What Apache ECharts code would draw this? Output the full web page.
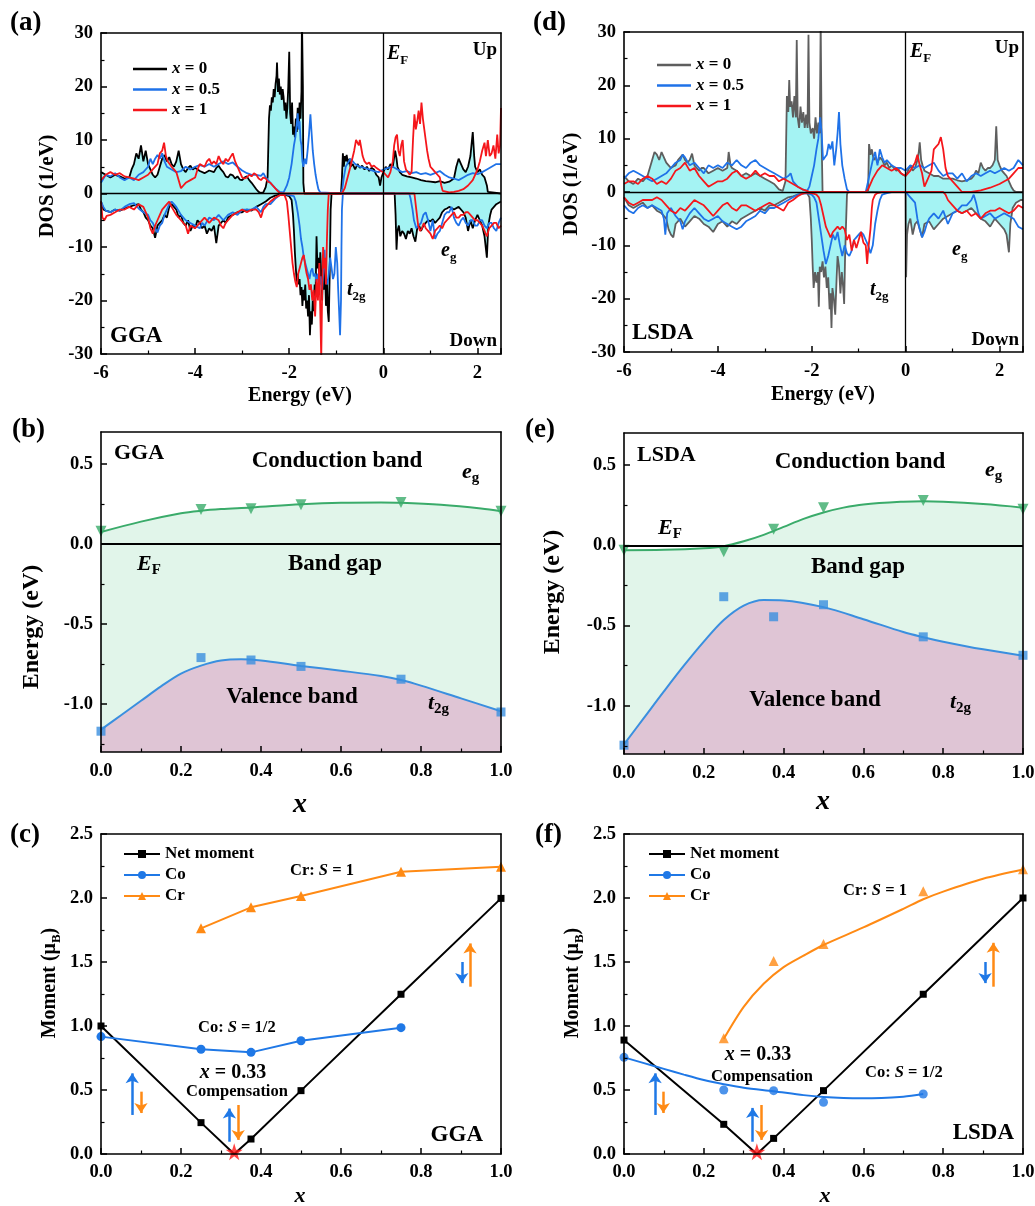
<!DOCTYPE html>
<html>
<head>
<meta charset="utf-8">
<script src="https://cdn.jsdelivr.net/npm/echarts@6/dist/echarts.min.js"></script>
<style>
html, body { margin: 0; padding: 0; background: #fff; }
#chart { width: 1035px; height: 1206px; }
</style>
</head>
<body>
<div id="chart"></div>
<script>
// ---- DOS, GGA (panel a): [energy eV, DOS 1/eV]
const ggaUp0 = [[-6,4],[-5.9,3.5],[-5.8,3],[-5.7,3.5],[-5.6,3.2],[-5.5,2.8],[-5.4,3],[-5.35,4.5],[-5.3,5.5],[-5.25,7.5],[-5.2,6.5],[-5.15,9],[-5.1,6],[-5.05,8],[-5,5.5],[-4.95,4.5],[-4.9,3.5],[-4.85,3],[-4.8,3.5],[-4.75,5],[-4.7,6.5],[-4.65,7.2],[-4.6,6],[-4.55,6.8],[-4.5,5.5],[-4.45,5],[-4.4,6],[-4.35,8],[-4.3,5.5],[-4.25,4.5],[-4.2,4],[-4.15,4.8],[-4.1,5.2],[-4.05,4.5],[-4,4.8],[-3.9,4.2],[-3.8,3.8],[-3.7,4.3],[-3.6,4],[-3.55,4.8],[-3.5,5.2],[-3.45,4.5],[-3.4,4],[-3.35,3.2],[-3.3,3],[-3.25,3.6],[-3.2,3.4],[-3.15,2.8],[-3.1,3.2],[-3.05,2.6],[-3,2.5],[-2.95,3],[-2.9,3.2],[-2.85,2.5],[-2.8,2],[-2.75,1.4],[-2.7,0.8],[-2.65,0.3],[-2.6,0.1],[-2.55,0.2],[-2.5,1.2],[-2.46,3],[-2.43,14],[-2.41,16.5],[-2.39,15.5],[-2.37,18],[-2.35,17],[-2.33,19.5],[-2.31,18],[-2.29,20.5],[-2.27,22],[-2.26,24.5],[-2.24,19],[-2.22,21.5],[-2.2,18.5],[-2.18,20],[-2.16,17.5],[-2.14,19.5],[-2.12,18],[-2.1,15.5],[-2.08,17],[-2.06,14],[-2.04,16],[-2.02,20],[-2,26.5],[-1.98,15],[-1.96,13],[-1.94,17],[-1.92,11],[-1.9,12.5],[-1.88,10.5],[-1.86,14],[-1.84,11.5],[-1.82,16],[-1.8,12],[-1.78,17],[-1.76,14],[-1.74,19],[-1.73,33],[-1.71,20],[-1.7,2],[-1.68,0],[-0.9,0],[-0.88,3],[-0.86,7.5],[-0.84,5],[-0.82,7],[-0.8,6],[-0.78,7.2],[-0.75,5.5],[-0.72,6.5],[-0.7,5],[-0.65,5.5],[-0.6,4.5],[-0.55,5.5],[-0.5,4.8],[-0.45,5.2],[-0.4,4.5],[-0.35,5],[-0.3,4.2],[-0.25,4.8],[-0.2,4.5],[-0.15,3.5],[-0.1,3],[-0.07,1.5],[-0.04,3],[0,4],[0.05,5],[0.1,4.5],[0.15,5.5],[0.2,5],[0.25,8],[0.28,6.5],[0.3,5],[0.35,4],[0.4,3.5],[0.5,3.2],[0.6,3],[0.7,2.8],[0.8,2.5],[0.9,2.3],[1,2.2],[1.1,2.1],[1.2,2.3],[1.3,2],[1.4,2.2],[1.5,2.8],[1.55,5],[1.6,6.5],[1.65,5.5],[1.7,4.5],[1.75,4],[1.8,5],[1.85,7],[1.9,11.5],[1.93,7],[1.95,5],[2,4],[2.05,4.5],[2.1,3.5],[2.15,3],[2.2,1.5],[2.22,0.3],[2.25,0],[2.5,0]];
const ggaUp05 = [[-6,2],[-5.9,3.5],[-5.8,3.2],[-5.7,3.8],[-5.6,3],[-5.5,2.5],[-5.4,3],[-5.3,2.5],[-5.2,3.5],[-5.1,4],[-5,5],[-4.95,6.5],[-4.9,5.5],[-4.85,6.5],[-4.8,7.2],[-4.75,6.5],[-4.7,7.5],[-4.65,6],[-4.6,5],[-4.5,4.5],[-4.4,4],[-4.3,4.2],[-4.2,5],[-4.1,4.5],[-4,5],[-3.9,5.3],[-3.8,5],[-3.7,5.5],[-3.6,5],[-3.5,5.5],[-3.4,6],[-3.3,5.5],[-3.2,5.8],[-3.1,5],[-3,4.3],[-2.9,3.8],[-2.8,3.5],[-2.7,3.5],[-2.6,3.3],[-2.55,3.8],[-2.5,3],[-2.45,2.5],[-2.4,2],[-2.3,1],[-2.2,0.3],[-2.12,0.2],[-2.05,1.5],[-2,3],[-1.95,5.5],[-1.9,9],[-1.87,10.5],[-1.84,13],[-1.82,15],[-1.8,12],[-1.78,13.5],[-1.76,10],[-1.74,9],[-1.72,6],[-1.7,5],[-1.67,6.5],[-1.64,5.5],[-1.61,8],[-1.58,11],[-1.55,14.8],[-1.53,12],[-1.5,8],[-1.47,5.5],[-1.44,3.5],[-1.41,2],[-1.38,0.8],[-1.34,0.2],[-1.3,0],[-0.9,0],[-0.87,1],[-0.84,3],[-0.8,5],[-0.75,5.8],[-0.7,6.5],[-0.65,6],[-0.6,5.5],[-0.55,5.2],[-0.5,5],[-0.4,4.8],[-0.3,4.5],[-0.2,4.2],[-0.1,4],[0,4.5],[0.1,4.8],[0.2,5],[0.3,4.5],[0.4,4],[0.5,4.2],[0.6,3.8],[0.7,4],[0.8,3.6],[0.9,3.8],[1,3.5],[1.1,3.8],[1.2,4.2],[1.3,3.5],[1.4,3],[1.5,2.8],[1.6,2.5],[1.7,3],[1.8,3.5],[1.9,3.8],[2,3.6],[2.1,4],[2.2,4.5],[2.3,5],[2.4,5.5],[2.5,5.5]];
const ggaUp1 = [[-6,2.5],[-5.9,3.5],[-5.8,4],[-5.7,3.5],[-5.6,3.8],[-5.5,3.2],[-5.4,3],[-5.3,2.8],[-5.2,2.5],[-5.1,3],[-5,3.5],[-4.9,4.5],[-4.8,5.5],[-4.75,7.5],[-4.7,8],[-4.66,9.5],[-4.62,7],[-4.58,6],[-4.5,5],[-4.45,4.5],[-4.4,4],[-4.35,2.5],[-4.3,1],[-4.25,1.5],[-4.2,2],[-4.1,2.5],[-4,3],[-3.95,4.5],[-3.9,5.5],[-3.8,5],[-3.75,6],[-3.7,6.5],[-3.65,5.5],[-3.6,6],[-3.55,5.5],[-3.5,7],[-3.45,6],[-3.4,5.5],[-3.35,6.5],[-3.3,6],[-3.25,6.8],[-3.2,7.5],[-3.15,6],[-3.1,5],[-3.05,4],[-3,3],[-2.95,2.8],[-2.9,3],[-2.85,3.5],[-2.8,3.2],[-2.75,3.8],[-2.7,3.5],[-2.65,2.8],[-2.6,2.5],[-2.55,3],[-2.5,2.8],[-2.45,2.2],[-2.4,2],[-2.35,1.5],[-2.3,1],[-2.25,0.5],[-2.2,0.1],[-2.15,0],[-0.88,0],[-0.82,1],[-0.76,3],[-0.7,5],[-0.66,6.5],[-0.62,8],[-0.58,10],[-0.55,10.3],[-0.52,9],[-0.5,10],[-0.47,8.5],[-0.44,7],[-0.4,6],[-0.35,5.5],[-0.3,5.8],[-0.25,5],[-0.2,5.2],[-0.15,4.8],[-0.1,4.5],[-0.05,4.2],[0,4],[0.05,3.5],[0.1,3],[0.15,4],[0.2,6],[0.23,9],[0.26,10.5],[0.29,11],[0.32,8],[0.35,7],[0.38,9],[0.41,10],[0.44,6],[0.48,4.5],[0.52,4],[0.56,3.5],[0.6,4],[0.63,10],[0.66,14.8],[0.69,12],[0.72,13.5],[0.75,15.5],[0.78,13],[0.81,17],[0.84,14],[0.87,12],[0.9,10],[0.93,8],[0.96,6.5],[1,5],[1.05,4.5],[1.1,4],[1.15,3.5],[1.2,3],[1.23,1.5],[1.26,0.5],[1.3,0.2],[1.4,0.2],[1.5,0.3],[1.6,0.5],[1.7,0.8],[1.8,1.5],[1.9,2.5],[1.95,3.5],[2,4.5],[2.05,6],[2.1,8],[2.15,9.5],[2.18,7],[2.22,10],[2.26,7],[2.3,7.5],[2.34,9],[2.38,6.5],[2.42,11],[2.45,7.5],[2.48,9],[2.5,16]];
const ggaDn0 = [[-6,-1.5],[-5.95,-3],[-5.9,-3.2],[-5.8,-3.5],[-5.7,-3],[-5.6,-3.2],[-5.5,-2.8],[-5.4,-2.5],[-5.3,-2.2],[-5.2,-2],[-5.15,-3],[-5.1,-3.5],[-5.05,-4.5],[-5,-5],[-4.95,-6],[-4.9,-6.5],[-4.85,-8.3],[-4.8,-6],[-4.75,-5.5],[-4.7,-5],[-4.65,-4],[-4.6,-4.5],[-4.55,-2.5],[-4.5,-2],[-4.45,-2.5],[-4.4,-3],[-4.35,-4.5],[-4.3,-4],[-4.25,-5.5],[-4.2,-6],[-4.15,-5],[-4.1,-7],[-4.05,-6],[-4,-6.5],[-3.95,-5],[-3.9,-5.5],[-3.85,-6.5],[-3.8,-6],[-3.75,-7.5],[-3.7,-6.5],[-3.65,-7],[-3.6,-6],[-3.55,-9.3],[-3.5,-6],[-3.45,-5.5],[-3.4,-5],[-3.35,-5.5],[-3.3,-4.5],[-3.25,-4.2],[-3.2,-4],[-3.1,-3.5],[-3,-3.5],[-2.9,-3],[-2.8,-3.2],[-2.7,-2.5],[-2.6,-2],[-2.5,-1.5],[-2.4,-0.8],[-2.3,-0.4],[-2.2,-0.2],[-2.1,-0.2],[-2,-0.5],[-1.95,-1.2],[-1.92,-4],[-1.9,-7],[-1.88,-11],[-1.86,-14],[-1.84,-16.5],[-1.82,-15],[-1.8,-17],[-1.78,-16],[-1.76,-19],[-1.74,-17.5],[-1.72,-21],[-1.7,-18],[-1.68,-20],[-1.66,-17],[-1.64,-21.5],[-1.62,-20],[-1.6,-23],[-1.58,-19],[-1.56,-26.5],[-1.54,-22],[-1.52,-24.5],[-1.5,-20],[-1.48,-22],[-1.46,-17],[-1.44,-19],[-1.42,-8],[-1.4,-14],[-1.38,-12],[-1.36,-17],[-1.34,-11],[-1.32,-15],[-1.3,-20],[-1.28,-13],[-1.26,-18],[-1.24,-14],[-1.22,-21],[-1.2,-16],[-1.18,-22],[-1.16,-24],[-1.14,-15],[-1.12,-3],[-1.1,0],[0.24,0],[0.26,-4],[0.28,-10.5],[0.3,-7],[0.33,-6],[0.36,-8],[0.4,-7],[0.44,-7.5],[0.48,-8.5],[0.52,-7],[0.56,-7.5],[0.6,-6.5],[0.64,-8],[0.68,-9],[0.72,-6.5],[0.76,-6],[0.8,-7],[0.85,-6],[0.9,-5.5],[0.95,-5],[1,-5.2],[1.05,-4.8],[1.1,-5.5],[1.15,-5],[1.2,-4.5],[1.25,-3.5],[1.3,-3],[1.35,-2.8],[1.4,-2.5],[1.5,-3],[1.6,-2.5],[1.7,-3.5],[1.75,-4.5],[1.8,-7],[1.85,-5],[1.9,-6.5],[1.95,-5],[2,-4],[2.05,-5],[2.1,-6],[2.15,-8],[2.2,-12],[2.23,-6],[2.27,-4],[2.3,-3],[2.4,-2],[2.5,-1.5]];
const ggaDn05 = [[-6,-1.5],[-5.95,-2.5],[-5.9,-3.2],[-5.8,-3.5],[-5.7,-3],[-5.6,-3.2],[-5.5,-2.5],[-5.4,-2],[-5.3,-1.8],[-5.2,-2.8],[-5.1,-3.5],[-5,-4],[-4.95,-5],[-4.9,-5.5],[-4.85,-6.5],[-4.8,-7.3],[-4.75,-6],[-4.7,-5.5],[-4.65,-4],[-4.6,-3],[-4.55,-2],[-4.5,-1.5],[-4.45,-2],[-4.4,-2.5],[-4.3,-4],[-4.2,-5],[-4.1,-5.5],[-4,-6],[-3.9,-6.5],[-3.85,-5.5],[-3.8,-6],[-3.7,-4.5],[-3.6,-5],[-3.5,-4],[-3.4,-5],[-3.3,-4],[-3.2,-3.5],[-3.1,-4],[-3,-3],[-2.9,-3],[-2.8,-3],[-2.7,-2.5],[-2.6,-3.5],[-2.55,-2.5],[-2.5,-2],[-2.4,-2],[-2.3,-1],[-2.2,-0.3],[-2.1,-0.1],[-2,-0.3],[-1.9,-0.5],[-1.86,-1.5],[-1.82,-3.5],[-1.78,-6],[-1.75,-8.5],[-1.72,-10],[-1.69,-12],[-1.66,-13],[-1.63,-14],[-1.6,-15],[-1.57,-16],[-1.54,-14.5],[-1.51,-14],[-1.48,-15.5],[-1.45,-15],[-1.42,-16.5],[-1.39,-15],[-1.36,-17],[-1.33,-15.5],[-1.3,-18],[-1.27,-14],[-1.25,-10.5],[-1.22,-16],[-1.19,-17],[-1.16,-15],[-1.13,-12],[-1.1,-14],[-1.07,-16],[-1.04,-15],[-1.01,-10],[-0.98,-13],[-0.96,-18],[-0.94,-22],[-0.92,-26.5],[-0.9,-20],[-0.89,-10],[-0.88,-3],[-0.86,0],[0.55,0],[0.58,-1],[0.62,-3],[0.65,-5],[0.7,-6.5],[0.75,-6],[0.8,-5.5],[0.85,-4],[0.9,-3.5],[0.95,-5],[1,-7],[1.05,-5],[1.1,-8.5],[1.15,-7.5],[1.2,-7],[1.25,-5.5],[1.3,-4],[1.35,-3.5],[1.4,-3.5],[1.45,-2.5],[1.5,-4.5],[1.55,-5.5],[1.6,-6],[1.65,-5],[1.7,-4.5],[1.75,-5.5],[1.8,-6],[1.85,-5],[1.9,-5],[1.95,-6],[2,-6],[2.05,-5],[2.1,-5],[2.15,-6],[2.2,-6.5],[2.25,-5.5],[2.3,-5.5],[2.35,-6.5],[2.4,-7],[2.45,-5.5],[2.5,-4.5]];
const ggaDn1 = [[-6,-1.5],[-5.97,-4.5],[-5.93,-5],[-5.88,-4.2],[-5.8,-4],[-5.7,-3.5],[-5.6,-3],[-5.5,-3],[-5.4,-2.5],[-5.3,-3],[-5.2,-2],[-5.1,-2.5],[-5.05,-3.5],[-5,-4.5],[-4.95,-6.5],[-4.9,-7.5],[-4.85,-6],[-4.8,-5],[-4.75,-4],[-4.7,-3],[-4.6,-2],[-4.55,-1.5],[-4.5,-2.5],[-4.4,-4],[-4.3,-5],[-4.2,-6],[-4.15,-7.5],[-4.1,-6],[-4,-6.5],[-3.9,-5.5],[-3.8,-4.5],[-3.7,-5.5],[-3.6,-4.5],[-3.5,-5],[-3.45,-6],[-3.4,-6.5],[-3.35,-5.5],[-3.3,-5],[-3.2,-4],[-3.1,-3.5],[-3,-3],[-2.9,-3.5],[-2.8,-3],[-2.7,-3],[-2.65,-3.5],[-2.6,-4.5],[-2.55,-3],[-2.5,-2.5],[-2.4,-1.5],[-2.3,-0.8],[-2.2,-0.3],[-2.1,-0.3],[-2.05,-1.5],[-2.02,-4],[-1.99,-7],[-1.96,-10],[-1.93,-13],[-1.9,-15],[-1.87,-16.5],[-1.84,-17.5],[-1.81,-15],[-1.78,-14],[-1.75,-13],[-1.72,-12],[-1.69,-11.5],[-1.66,-13.5],[-1.63,-15],[-1.6,-16],[-1.57,-18],[-1.54,-17],[-1.51,-20],[-1.48,-18],[-1.45,-23],[-1.42,-16],[-1.39,-20],[-1.36,-13],[-1.34,-22],[-1.32,-31],[-1.3,-18],[-1.28,-10],[-1.26,-14],[-1.24,-12],[-1.22,-17],[-1.2,-9],[-1.18,-3],[-1.16,0],[0.66,0],[0.7,-3],[0.74,-6],[0.78,-7],[0.82,-6.5],[0.86,-5.5],[0.9,-6.5],[0.95,-7],[1,-7.5],[1.05,-8.5],[1.1,-7],[1.15,-6.5],[1.2,-6],[1.25,-6.5],[1.3,-5.5],[1.35,-5],[1.4,-4.5],[1.45,-4],[1.5,-3.5],[1.55,-4.5],[1.6,-4.5],[1.65,-4],[1.7,-4],[1.75,-3.5],[1.8,-3.5],[1.85,-4],[1.9,-4.5],[1.95,-5],[2,-5],[2.05,-5.5],[2.1,-6],[2.15,-7],[2.2,-8],[2.25,-6.5],[2.3,-6],[2.35,-5.5],[2.4,-5.5],[2.45,-6.5],[2.5,-6]];

// ---- DOS, LSDA (panel d)
const lsdaUp0 = [[-6,3],[-5.95,2.5],[-5.9,2],[-5.8,1.5],[-5.7,2.5],[-5.6,2],[-5.5,3],[-5.45,4.5],[-5.4,6],[-5.35,7.5],[-5.3,7],[-5.25,6],[-5.2,7.5],[-5.15,6.5],[-5.1,5.5],[-5.05,5],[-5,4.5],[-4.95,4.8],[-4.9,5],[-4.85,6],[-4.8,6.5],[-4.75,7],[-4.7,6],[-4.65,5.5],[-4.6,6],[-4.55,7.2],[-4.5,5],[-4.45,4.5],[-4.4,4],[-4.35,4.5],[-4.3,4.5],[-4.25,4],[-4.2,3.5],[-4.1,4],[-4,4.5],[-3.9,4],[-3.8,4.5],[-3.77,7.5],[-3.73,5],[-3.7,4.5],[-3.6,4],[-3.5,3],[-3.4,3.5],[-3.3,3],[-3.2,3.5],[-3.1,3],[-3,2.5],[-2.9,2],[-2.8,1.5],[-2.75,1],[-2.7,0.5],[-2.62,0.2],[-2.56,2],[-2.53,18],[-2.5,15],[-2.48,21],[-2.46,16],[-2.43,17],[-2.4,14],[-2.37,18],[-2.34,14],[-2.32,28.5],[-2.3,14],[-2.27,12],[-2.24,16],[-2.21,13],[-2.18,15],[-2.15,12],[-2.12,14.5],[-2.09,12],[-2.07,29.5],[-2.05,13],[-2.02,11],[-1.98,12],[-1.95,10],[-1.92,14],[-1.89,11],[-1.86,13],[-1.83,11],[-1.81,32],[-1.79,10],[-1.77,0],[-0.8,0],[-0.78,9],[-0.75,7],[-0.72,8],[-0.68,6],[-0.64,6.5],[-0.6,5.5],[-0.55,6.5],[-0.5,6],[-0.45,5],[-0.4,5.5],[-0.35,4.5],[-0.3,5],[-0.25,4.5],[-0.2,4],[-0.15,4.2],[-0.1,3.5],[-0.05,3.2],[0,3],[0.05,4],[0.1,5],[0.15,4],[0.2,4.5],[0.25,6],[0.28,7.5],[0.3,9.3],[0.33,6],[0.36,5],[0.4,4],[0.5,3.5],[0.6,3],[0.7,3],[0.8,2.5],[0.9,2.5],[1,2.5],[1.1,2.2],[1.2,2],[1.3,2.2],[1.4,2.5],[1.45,3],[1.5,4],[1.55,3.5],[1.6,5.5],[1.65,4.5],[1.7,4],[1.75,4.5],[1.8,4.5],[1.85,5],[1.9,6],[1.93,12.3],[1.96,6],[2,5],[2.05,4],[2.1,3.5],[2.15,3],[2.2,2],[2.25,1],[2.3,0.3],[2.35,0],[2.5,0]];
const lsdaUp05 = [[-6,2.5],[-5.9,3.5],[-5.8,4],[-5.7,3.5],[-5.6,3],[-5.5,2.5],[-5.4,2],[-5.3,2.5],[-5.2,3],[-5.1,3.5],[-5,4.5],[-4.9,5.5],[-4.8,6],[-4.75,7],[-4.7,6.5],[-4.6,5],[-4.5,5.5],[-4.4,4.5],[-4.3,3.5],[-4.2,5],[-4.1,4.5],[-4,5],[-3.9,4.5],[-3.8,5.5],[-3.7,5],[-3.6,6],[-3.5,5],[-3.4,4.5],[-3.3,5.5],[-3.2,6],[-3.1,5],[-3,4.5],[-2.9,4],[-2.8,3.5],[-2.7,3],[-2.6,2.5],[-2.5,3],[-2.45,3.5],[-2.4,2],[-2.3,1],[-2.2,0.5],[-2.1,0.2],[-2.05,1],[-2,3],[-1.95,5],[-1.9,8],[-1.86,10],[-1.82,14],[-1.79,11],[-1.76,6],[-1.72,6.5],[-1.68,7],[-1.64,9],[-1.6,8],[-1.56,9.5],[-1.52,5],[-1.48,8],[-1.45,11],[-1.42,15],[-1.39,9],[-1.35,5],[-1.3,2.5],[-1.25,0.5],[-1.2,0],[-0.85,0],[-0.8,2],[-0.75,4],[-0.7,6],[-0.65,7.5],[-0.6,5],[-0.55,8],[-0.5,6.5],[-0.45,5.5],[-0.4,6],[-0.3,5],[-0.2,4.5],[-0.1,4.5],[0,4],[0.1,5],[0.2,4.5],[0.3,5],[0.4,4.5],[0.5,5],[0.6,5.5],[0.7,4],[0.8,3],[0.9,3.5],[1,3.5],[1.1,2.5],[1.2,3.5],[1.3,2],[1.4,3],[1.5,3.5],[1.6,3],[1.7,3.5],[1.8,4],[1.9,3.5],[2,4],[2.1,4.5],[2.2,4],[2.3,4.5],[2.4,6],[2.5,5]];
const lsdaUp1 = [[-6,1.5],[-5.9,2],[-5.8,2],[-5.7,1.5],[-5.6,2.5],[-5.5,3],[-5.4,2.5],[-5.3,1.5],[-5.2,2],[-5.1,1.5],[-5,2.5],[-4.9,4],[-4.8,4.5],[-4.7,5.5],[-4.6,4],[-4.5,4.5],[-4.4,3],[-4.3,2],[-4.2,1],[-4.1,1.5],[-4,2],[-3.9,2],[-3.8,2.5],[-3.7,3.5],[-3.6,4],[-3.5,3],[-3.4,2.5],[-3.3,3],[-3.2,4],[-3.1,3],[-3,3.5],[-2.9,3],[-2.8,3],[-2.7,2],[-2.6,2.5],[-2.5,2],[-2.4,1.5],[-2.3,1],[-2.2,0.5],[-2.1,0.2],[-2.05,0],[-0.85,0],[-0.8,0.5],[-0.7,2.5],[-0.6,4],[-0.5,5],[-0.4,4.5],[-0.3,4],[-0.2,4.5],[-0.1,3.5],[0,3],[0.1,4],[0.2,5.5],[0.25,7],[0.3,5],[0.35,3.5],[0.4,1],[0.45,2],[0.5,3],[0.55,4],[0.6,8],[0.65,8.5],[0.7,9],[0.75,10.3],[0.8,8],[0.85,4.5],[0.9,3],[1,2],[1.1,1],[1.2,0],[1.4,0],[1.6,0.3],[1.8,0.8],[2,1.5],[2.2,2.5],[2.3,3.5],[2.4,4.5],[2.5,4.5]];
const lsdaDn0 = [[-6,-1],[-5.9,-2.5],[-5.8,-3],[-5.7,-2.5],[-5.6,-2],[-5.5,-3],[-5.4,-2.5],[-5.3,-3.5],[-5.2,-4],[-5.1,-5],[-5.05,-7],[-5,-8],[-4.95,-8.5],[-4.9,-6],[-4.8,-5],[-4.7,-6.5],[-4.6,-5.5],[-4.5,-4.5],[-4.4,-5],[-4.3,-6],[-4.2,-6.5],[-4.1,-7.5],[-4,-6],[-3.9,-5.5],[-3.8,-6.5],[-3.7,-5.5],[-3.6,-6],[-3.5,-5],[-3.4,-4.5],[-3.3,-4],[-3.2,-3.5],[-3.1,-3],[-3,-3.5],[-2.9,-2.5],[-2.8,-2.5],[-2.7,-2],[-2.6,-1.5],[-2.5,-1],[-2.4,-0.8],[-2.3,-0.5],[-2.2,-0.3],[-2.1,-0.2],[-2.05,-1],[-2.02,-5],[-2,-9],[-1.98,-14],[-1.96,-18],[-1.93,-15],[-1.9,-17],[-1.87,-15],[-1.85,-21.5],[-1.83,-14],[-1.8,-15],[-1.77,-13],[-1.74,-16],[-1.71,-14],[-1.68,-18],[-1.65,-16],[-1.62,-22],[-1.6,-19],[-1.58,-25.5],[-1.56,-18],[-1.53,-20],[-1.5,-23],[-1.47,-16],[-1.45,-12],[-1.42,-14],[-1.39,-19],[-1.36,-15],[-1.33,-18],[-1.31,-21],[-1.29,-12],[-1.27,-6],[-1.25,-0.5],[-1.23,0],[0,0],[0.01,-16],[0.03,-8],[0.06,-6],[0.1,-5],[0.15,-8],[0.2,-6],[0.25,-5.5],[0.3,-7],[0.35,-8.5],[0.4,-6],[0.5,-5.5],[0.6,-7],[0.7,-6],[0.8,-5],[0.9,-4.5],[1,-4],[1.1,-3.5],[1.2,-4],[1.3,-3.5],[1.4,-3],[1.5,-4],[1.6,-5],[1.7,-5.5],[1.8,-6.5],[1.9,-5],[2,-6],[2.1,-7],[2.15,-8],[2.2,-11.3],[2.23,-6],[2.28,-3],[2.35,-2],[2.45,-1.5],[2.5,-1.5]];
const lsdaDn05 = [[-6,-2.5],[-5.9,-3.5],[-5.8,-4],[-5.7,-3],[-5.6,-2.5],[-5.5,-3],[-5.4,-2.5],[-5.3,-3],[-5.2,-3.5],[-5.15,-5],[-5.12,-8],[-5.08,-4],[-5,-3],[-4.9,-4.5],[-4.8,-5.5],[-4.75,-7],[-4.7,-5.5],[-4.6,-4],[-4.5,-3],[-4.4,-4],[-4.3,-5],[-4.2,-5.5],[-4.1,-5],[-4,-4.5],[-3.9,-5.5],[-3.8,-6],[-3.7,-6.5],[-3.6,-7],[-3.5,-6.5],[-3.4,-5.5],[-3.3,-5],[-3.2,-4.5],[-3.1,-3.5],[-3,-4],[-2.9,-3],[-2.8,-3],[-2.7,-2.5],[-2.6,-2],[-2.5,-1.5],[-2.4,-1],[-2.3,-0.5],[-2.2,-0.3],[-2.1,-0.2],[-2,-0.5],[-1.95,-1],[-1.9,-2],[-1.85,-5],[-1.8,-8],[-1.75,-11],[-1.7,-13.5],[-1.65,-12],[-1.6,-10],[-1.55,-8],[-1.5,-9],[-1.45,-7.5],[-1.4,-10],[-1.35,-12],[-1.3,-10],[-1.25,-11.5],[-1.2,-12],[-1.15,-11],[-1.1,-9],[-1.05,-8.5],[-1,-8],[-0.95,-7.5],[-0.9,-8],[-0.85,-9],[-0.8,-10],[-0.75,-11.5],[-0.7,-10],[-0.65,-6],[-0.6,-3.5],[-0.55,-1.5],[-0.5,-0.5],[-0.4,-0.2],[-0.3,0],[0,0],[0.1,-1],[0.2,-2],[0.25,-5],[0.3,-7],[0.35,-8.5],[0.4,-7.5],[0.45,-6],[0.5,-5],[0.6,-4],[0.7,-5],[0.8,-3.5],[0.9,-6],[1,-4],[1.1,-3.5],[1.2,-2.5],[1.3,-2.5],[1.4,-1.5],[1.45,-0.5],[1.5,-2],[1.55,-4],[1.6,-5],[1.7,-4.5],[1.8,-4],[1.9,-5],[2,-4.5],[2.1,-4],[2.2,-4.5],[2.3,-5],[2.4,-6.5],[2.5,-7]];
const lsdaDn1 = [[-6,-1],[-5.9,-2],[-5.8,-2.5],[-5.7,-2],[-5.6,-1.5],[-5.5,-1.5],[-5.4,-1.5],[-5.3,-1],[-5.2,-1.5],[-5.1,-2.5],[-5,-3.5],[-4.9,-4],[-4.8,-3],[-4.7,-3.5],[-4.6,-2.5],[-4.5,-1.5],[-4.4,-2],[-4.3,-2.5],[-4.2,-3.5],[-4.1,-4.5],[-4,-3.5],[-3.9,-2.5],[-3.8,-2],[-3.7,-3],[-3.6,-3.5],[-3.5,-2.5],[-3.4,-2.5],[-3.3,-3],[-3.2,-3.5],[-3.1,-3],[-3,-2.5],[-2.9,-2],[-2.8,-2.5],[-2.7,-3],[-2.6,-3.5],[-2.5,-2],[-2.4,-1.5],[-2.3,-0.8],[-2.2,-0.3],[-2.1,-0.1],[-2,-0.2],[-1.9,-0.5],[-1.85,-1],[-1.8,-2.5],[-1.75,-4.5],[-1.7,-6.5],[-1.65,-7.5],[-1.6,-8.5],[-1.55,-7.5],[-1.5,-7],[-1.45,-6.5],[-1.4,-7],[-1.35,-6.5],[-1.3,-7],[-1.25,-9],[-1.2,-8],[-1.15,-11],[-1.1,-9],[-1.05,-10.5],[-1,-9],[-0.95,-7.5],[-0.9,-9.5],[-0.85,-10],[-0.82,-13.5],[-0.8,-11],[-0.75,-7],[-0.72,-3],[-0.7,-1.5],[-0.65,-0.5],[-0.6,-0.2],[-0.5,0],[0.8,0],[0.85,-0.5],[0.9,-1.5],[1,-2.5],[1.1,-3.5],[1.2,-4],[1.3,-3.5],[1.4,-4.5],[1.5,-4],[1.6,-5],[1.7,-4],[1.8,-3.5],[1.9,-3.5],[2,-3],[2.1,-3.5],[2.2,-4],[2.3,-3.5],[2.4,-2.5],[2.5,-3]];

// ---- band edges (panels b, e): [x, energy eV]
const ggaEgCurve = [[0,0.075],[0.1,0.14],[0.2,0.192],[0.25,0.208],[0.3,0.218],[0.375,0.228],[0.5,0.248],[0.6,0.258],[0.7,0.26],[0.75,0.258],[0.85,0.245],[0.95,0.222],[1,0.205]];
const ggaEgPts = [[0,0.08],[0.25,0.215],[0.375,0.22],[0.5,0.245],[0.75,0.26],[1,0.205]];
const ggaT2gCurve = [[0,-1.16],[0.05,-1.07],[0.1,-0.98],[0.15,-0.89],[0.2,-0.81],[0.25,-0.76],[0.3,-0.728],[0.35,-0.72],[0.4,-0.728],[0.5,-0.762],[0.6,-0.792],[0.7,-0.825],[0.75,-0.85],[0.8,-0.885],[0.9,-0.965],[1,-1.045]];
const ggaT2gPts = [[0,-1.17],[0.25,-0.71],[0.375,-0.725],[0.5,-0.765],[0.75,-0.845],[1,-1.05]];
const lsdaEgCurve = [[0,-0.03],[0.1,-0.028],[0.2,-0.018],[0.25,-0.005],[0.3,0.025],[0.35,0.065],[0.4,0.115],[0.45,0.165],[0.5,0.205],[0.55,0.235],[0.6,0.255],[0.7,0.272],[0.75,0.275],[0.8,0.272],[0.9,0.257],[1,0.235]];
const lsdaEgPts = [[0,-0.03],[0.25,-0.04],[0.375,0.1],[0.5,0.235],[0.75,0.28],[1,0.225]];
const lsdaT2gCurve = [[0,-1.24],[0.05,-1.075],[0.1,-0.91],[0.15,-0.75],[0.2,-0.6],[0.25,-0.465],[0.3,-0.375],[0.35,-0.34],[0.4,-0.343],[0.5,-0.385],[0.6,-0.46],[0.7,-0.54],[0.75,-0.572],[0.8,-0.6],[0.9,-0.648],[1,-0.688]];
const lsdaT2gPts = [[0,-1.245],[0.25,-0.32],[0.375,-0.445],[0.5,-0.37],[0.75,-0.57],[1,-0.685]];

// ---- magnetic moments (panels c, f): [x, muB]
const ggaNet = [[0,1.0],[0.25,0.245],[0.333,0],[0.375,0.117],[0.5,0.495],[0.75,1.248],[1,1.997]];
const ggaCo = [[0,0.917],[0.25,0.818],[0.375,0.794],[0.5,0.885],[0.75,0.987]];
const ggaCr = [[0.25,1.763],[0.375,1.927],[0.5,2.016],[0.75,2.205],[1,2.245]];
const lsdaNet = [[0,0.89],[0.25,0.232],[0.333,0],[0.375,0.122],[0.5,0.495],[0.75,1.248],[1,2.0]];
const lsdaCoPts = [[0,0.755],[0.25,0.5],[0.375,0.495],[0.5,0.404],[0.75,0.469]];
const lsdaCoCurve = [[0,0.755],[0.05,0.71],[0.1,0.665],[0.15,0.62],[0.2,0.578],[0.25,0.545],[0.3,0.518],[0.375,0.49],[0.45,0.46],[0.5,0.445],[0.55,0.437],[0.6,0.435],[0.7,0.448],[0.75,0.468]];
const lsdaCrPts = [[0.25,0.904],[0.375,1.508],[0.5,1.641],[0.75,2.052],[1,2.224]];
const lsdaCrCurve = [[0.25,0.9],[0.3,1.15],[0.35,1.33],[0.4,1.46],[0.45,1.55],[0.5,1.633],[0.6,1.77],[0.7,1.915],[0.75,1.99],[0.8,2.05],[0.9,2.15],[1,2.222]];
const compStar = [[0.333,0.018]];
// arrows: [x, from, to, colour key]
const ggaArrows = [[0.078,0.305,0.63,'b'],[0.1,0.487,0.32,'o'],[0.321,0.096,0.355,'b'],[0.343,0.383,0.11,'o'],[0.902,1.5,1.335,'b'],[0.9225,1.307,1.645,'o']];
const lsdaArrows = [[0.078,0.305,0.63,'b'],[0.0985,0.487,0.32,'o'],[0.3225,0.096,0.36,'b'],[0.345,0.383,0.11,'o'],[0.905,1.5,1.335,'b'],[0.9256,1.307,1.65,'o']];

const FONT = '"Liberation Serif", "Times New Roman", serif';
const DOS_BLUE = '#1f72e8', DOS_RED = '#f5161b', GRAY = '#5e5e5e', CYAN = '#a4f3f3';
const EG_GREEN = '#3aab6a', GREEN_FILL = '#e1f5ea', PINK_FILL = '#dfc5d5', T2G_BLUE = '#3a8fdf';
const MOM_BLUE = '#1f78e6', ORANGE = '#ff8a14', STAR = 'path://M50,0 L61,35 L98,35 L68,57 L79,91 L50,70 L21,91 L32,57 L2,35 L39,35 Z';
const ARROW_COL = {b: MOM_BLUE, o: ORANGE};

// grid order: a, d, b, e, c, f
const GRIDS = [[101,33,400,321],[624,32,399,320],[101,432,400,320],[624,433,399,321],[101,834,400,320],[624,834,399,320]];

const fmtInt = v => String(v);
const fmt1 = v => v.toFixed(1);

function axis(gi, pos, min, max, o) {
  o = o || {};
  const a = {
    type: 'value', gridIndex: gi, position: pos, min: min, max: max, z: 10,
    axisLine: {show: true, onZero: false, lineStyle: {color: '#000', width: 1.6}},
    splitLine: {show: false},
    axisTick: {show: !o.bare, inside: true, length: 6, lineStyle: {color: '#000', width: 1.5}},
    minorTick: {show: !o.bare && !o.custom, splitNumber: 2, length: 3.5, lineStyle: {color: '#000', width: 1.2}},
    axisLabel: {show: !o.bare, color: '#000', fontFamily: FONT, fontWeight: 'bold', fontSize: 18.5, margin: o.margin || 8}
  };
  if (o.fmt) a.axisLabel.formatter = o.fmt;
  if (o.hideMax) a.axisLabel.showMaxLabel = false;
  if (o.interval) a.interval = o.interval;
  if (o.custom) { a.axisTick.customValues = o.custom; a.axisLabel.customValues = o.custom; }
  return a;
}
function minorAxis(gi, min, max, values) {
  return {
    type: 'value', gridIndex: gi, position: 'left', min: min, max: max, z: 10,
    axisLine: {show: false}, splitLine: {show: false}, axisLabel: {show: false},
    axisTick: {show: true, inside: true, length: 3.5, customValues: values, lineStyle: {color: '#000', width: 1.2}}
  };
}

const xAxis = [
  axis(0, 'bottom', -6, 2.5, {interval: 2, fmt: fmtInt, margin: 10, hideMax: true}),
  axis(1, 'bottom', -6, 2.5, {interval: 2, fmt: fmtInt, margin: 10, hideMax: true}),
  axis(2, 'bottom', 0, 1, {interval: 0.2, fmt: fmt1, margin: 10}),
  axis(3, 'bottom', 0, 1, {interval: 0.2, fmt: fmt1, margin: 10}),
  axis(4, 'bottom', 0, 1, {interval: 0.2, fmt: fmt1, margin: 9}),
  axis(5, 'bottom', 0, 1, {interval: 0.2, fmt: fmt1, margin: 9})
];
const yAxis = [
  axis(0, 'left', -30, 30, {interval: 10, fmt: fmtInt}),
  axis(1, 'left', -30, 30, {interval: 10, fmt: fmtInt}),
  axis(2, 'left', -1.3, 0.7, {custom: [-1, -0.5, 0, 0.5], fmt: fmt1}),
  axis(3, 'left', -1.3, 0.7, {custom: [-1, -0.5, 0, 0.5], fmt: fmt1}),
  axis(4, 'left', 0, 2.5, {interval: 0.5, fmt: fmt1}),
  axis(5, 'left', 0, 2.5, {interval: 0.5, fmt: fmt1})
];
for (let i = 0; i < 6; i++) {
  xAxis.push(axis(i, 'top', 0, 1, {bare: true}));
  yAxis.push(axis(i, 'right', 0, 1, {bare: true}));
}
yAxis.push(minorAxis(2, -1.3, 0.7, [-1.25, -0.75, -0.25, 0.25]));
yAxis.push(minorAxis(3, -1.3, 0.7, [-1.25, -0.75, -0.25, 0.25]));

const zeroLines = {
  silent: true, symbol: 'none', label: {show: false},
  lineStyle: {color: '#000', width: 1.3, type: 'solid'},
  data: [{yAxis: 0}, {xAxis: 0}]
};
function dosLine(name, data, color, gi, fill, extra) {
  const s = {
    name: name, type: 'line', xAxisIndex: gi, yAxisIndex: gi, data: data,
    symbol: 'none', silent: true, z: 2,
    lineStyle: {color: color, width: 1.8}, itemStyle: {color: color}
  };
  if (fill) s.areaStyle = {color: CYAN, opacity: 1};
  return Object.assign(s, extra || {});
}
function bandCurve(data, color, fill, gi, extra) {
  return Object.assign({
    type: 'line', xAxisIndex: gi, yAxisIndex: gi, data: data, smooth: 0.35, symbol: 'none', silent: true, z: 2,
    lineStyle: {color: color, width: 2}, areaStyle: {color: fill, opacity: 1, origin: 'start'}
  }, extra || {});
}
function bandPts(data, color, symbol, size, rotate, gi) {
  return {type: 'scatter', xAxisIndex: gi, yAxisIndex: gi, data: data, symbol: symbol, symbolSize: size,
    symbolRotate: rotate, itemStyle: {color: color}, silent: true, z: 4};
}
function momentLine(name, data, color, symbol, size, gi, extra) {
  return Object.assign({
    name: name, type: 'line', xAxisIndex: gi, yAxisIndex: gi, data: data, symbol: symbol, symbolSize: size,
    lineStyle: {color: color, width: 2}, itemStyle: {color: color}, silent: true, z: 3
  }, extra || {});
}
function netData(list) {
  return list.map(p => (p[0] === 0.333 ? {value: p, symbol: 'none'} : p));
}
function arrowMarks(list) {
  return {
    silent: true, symbol: ['none', 'arrow'], symbolSize: 10, label: {show: false},
    data: list.map(a => [
      {coord: [a[0], a[1]], lineStyle: {color: ARROW_COL[a[3]], width: 2.5, type: 'solid'}, itemStyle: {color: ARROW_COL[a[3]]}},
      {coord: [a[0], a[2]]}
    ])
  };
}
const efLine = {silent: true, symbol: 'none', label: {show: false},
  lineStyle: {color: '#000', width: 2, type: 'solid'}, data: [{yAxis: 0}]};

const series = [
  // (a) GGA DOS
  dosLine('GGA x=0', ggaUp0, '#000', 0, true, {markLine: zeroLines}),
  dosLine('GGA x=0', ggaDn0, '#000', 0, true),
  dosLine('GGA x=0.5', ggaUp05, DOS_BLUE, 0),
  dosLine('GGA x=0.5', ggaDn05, DOS_BLUE, 0),
  dosLine('GGA x=1', ggaUp1, DOS_RED, 0),
  dosLine('GGA x=1', ggaDn1, DOS_RED, 0),
  // (d) LSDA DOS
  dosLine('LSDA x=0', lsdaUp0, GRAY, 1, true, {markLine: zeroLines}),
  dosLine('LSDA x=0', lsdaDn0, GRAY, 1, true),
  dosLine('LSDA x=0.5', lsdaUp05, DOS_BLUE, 1),
  dosLine('LSDA x=0.5', lsdaDn05, DOS_BLUE, 1),
  dosLine('LSDA x=1', lsdaUp1, DOS_RED, 1),
  dosLine('LSDA x=1', lsdaDn1, DOS_RED, 1),
  // (b) GGA band edges
  bandCurve(ggaEgCurve, EG_GREEN, GREEN_FILL, 2),
  bandCurve(ggaT2gCurve, T2G_BLUE, PINK_FILL, 2, {markLine: efLine}),
  bandPts(ggaEgPts, EG_GREEN, 'triangle', 11, 180, 2),
  bandPts(ggaT2gPts, T2G_BLUE, 'rect', 9, 0, 2),
  // (e) LSDA band edges
  bandCurve(lsdaEgCurve, EG_GREEN, GREEN_FILL, 3),
  bandCurve(lsdaT2gCurve, T2G_BLUE, PINK_FILL, 3, {markLine: efLine}),
  bandPts(lsdaEgPts, EG_GREEN, 'triangle', 11, 180, 3),
  bandPts(lsdaT2gPts, T2G_BLUE, 'rect', 9, 0, 3),
  // (c) GGA moments
  momentLine('GGA Net', netData(ggaNet), '#000', 'rect', 7, 4),
  momentLine('GGA Co', ggaCo, MOM_BLUE, 'circle', 9, 4),
  momentLine('GGA Cr', ggaCr, ORANGE, 'triangle', 10, 4),
  {type: 'scatter', xAxisIndex: 4, yAxisIndex: 4, data: compStar, symbol: STAR, symbolSize: 17,
    itemStyle: {color: '#ff1414'}, silent: true, z: 6, markLine: arrowMarks(ggaArrows)},
  // (f) LSDA moments
  momentLine('LSDA Net', netData(lsdaNet), '#000', 'rect', 7, 5),
  momentLine('LSDA Co', lsdaCoCurve, MOM_BLUE, 'circle', 9, 5, {smooth: 0.3, showSymbol: false}),
  momentLine('LSDA Cr', lsdaCrCurve, ORANGE, 'triangle', 10, 5, {smooth: 0.3, showSymbol: false}),
  bandPts(lsdaCoPts, MOM_BLUE, 'circle', 9, 0, 5),
  bandPts(lsdaCrPts, ORANGE, 'triangle', 10, 0, 5),
  {type: 'scatter', xAxisIndex: 5, yAxisIndex: 5, data: compStar, symbol: STAR, symbolSize: 17,
    itemStyle: {color: '#ff1414'}, silent: true, z: 6, markLine: arrowMarks(lsdaArrows)}
];

const legendNames = {
  'GGA x=0': '{i|x} = 0', 'GGA x=0.5': '{i|x} = 0.5', 'GGA x=1': '{i|x} = 1',
  'LSDA x=0': '{i|x} = 0', 'LSDA x=0.5': '{i|x} = 0.5', 'LSDA x=1': '{i|x} = 1',
  'GGA Net': 'Net moment', 'GGA Co': 'Co', 'GGA Cr': 'Cr',
  'LSDA Net': 'Net moment', 'LSDA Co': 'Co', 'LSDA Cr': 'Cr'
};
function legend(names, left, top, dos) {
  return {
    data: names, left: left, top: top, orient: 'vertical', padding: 0, selectedMode: false,
    icon: dos ? 'rect' : undefined, itemWidth: dos ? 34 : 36, itemHeight: dos ? 2.5 : 10,
    itemGap: dos ? 2.5 : 3,
    formatter: n => legendNames[n],
    textStyle: {color: '#000', fontFamily: FONT, fontWeight: 'bold', fontSize: 17, lineHeight: 18,
      rich: {i: {color: '#000', fontFamily: FONT, fontWeight: 'bold', fontStyle: 'italic', fontSize: 17, lineHeight: 18}}}
  };
}

function richFor(size, color) {
  return {
    i: {fontFamily: FONT, fontWeight: 'bold', fontStyle: 'italic', fontSize: size, lineHeight: size + 6,
      verticalAlign: 'middle', fill: color, color: color},
    s: {fontFamily: FONT, fontWeight: 'bold', fontSize: Math.round(size * 0.66), lineHeight: Math.round(size * 0.7),
      verticalAlign: 'bottom', fill: color, color: color}
  };
}
function label(x, y, text, size, o) {
  o = o || {};
  const color = o.color || '#000';
  const align = o.align || 'left';
  return {
    type: 'text', x: x, y: y, rotation: o.rot || 0, silent: true, z: 100,
    style: {
      text: text, fill: color, fontFamily: FONT, fontWeight: 'bold', fontStyle: o.italic ? 'italic' : 'normal',
      fontSize: size, lineHeight: size + 6, align: align, textAlign: align,
      verticalAlign: 'middle', textVerticalAlign: 'middle', rich: richFor(size, color)
    }
  };
}
const R = Math.PI / 2;
const texts = [
  // panel letters
  label(10, 23, '(a)', 27), label(533, 23, '(d)', 27), label(12, 430, '(b)', 27),
  label(525, 430, '(e)', 27), label(10, 835, '(c)', 27), label(535, 835, '(f)', 27),
  // (a)
  label(48, 186, 'DOS (1/eV)', 21, {rot: R, align: 'center'}),
  label(300, 396, 'Energy (eV)', 20, {align: 'center'}),
  label(387, 54, '{i|E}{s|F}', 20), label(497, 50, 'Up', 19, {align: 'right'}),
  label(497, 341, 'Down', 19, {align: 'right'}), label(110, 336, 'GGA', 23),
  label(441, 251, '{i|e}{s|g}', 20), label(347, 290, '{i|t}{s|2g}', 20),
  // (d)
  label(572, 184, 'DOS (1/eV)', 21, {rot: R, align: 'center'}),
  label(823, 395, 'Energy (eV)', 20, {align: 'center'}),
  label(910, 52, '{i|E}{s|F}', 20), label(1019, 48, 'Up', 19, {align: 'right'}),
  label(1019, 340, 'Down', 19, {align: 'right'}), label(632, 333, 'LSDA', 23),
  label(952, 250, '{i|e}{s|g}', 20), label(870, 290, '{i|t}{s|2g}', 20),
  // (b)
  label(32, 627, 'Energy (eV)', 24, {rot: R, align: 'center'}),
  label(300, 805, 'x', 28, {align: 'center', italic: true}),
  label(114, 453, 'GGA', 22), label(337, 461, 'Conduction band', 23, {align: 'center'}),
  label(462, 472, '{i|e}{s|g}', 22), label(137, 564, '{i|E}{s|F}', 22),
  label(335, 564, 'Band gap', 23, {align: 'center'}), label(292, 697, 'Valence band', 23, {align: 'center'}),
  label(428, 703, '{i|t}{s|2g}', 22),
  // (e)
  label(553, 592, 'Energy (eV)', 24, {rot: R, align: 'center'}),
  label(823, 802, 'x', 28, {align: 'center', italic: true}),
  label(637, 455, 'LSDA', 22), label(860, 462, 'Conduction band', 23, {align: 'center'}),
  label(985, 470, '{i|e}{s|g}', 22), label(658, 528, '{i|E}{s|F}', 22),
  label(858, 567, 'Band gap', 23, {align: 'center'}), label(815, 700, 'Valence band', 23, {align: 'center'}),
  label(950, 702, '{i|t}{s|2g}', 22),
  // (c)
  label(50, 983, 'Moment (μ{s|B})', 20, {rot: R, align: 'center'}),
  label(300, 1196, 'x', 22, {align: 'center', italic: true}),
  label(290, 871, 'Cr: {i|S} = 1', 16.5), label(198, 1028, 'Co: {i|S} = 1/2', 16.5),
  label(233, 1073, '{i|x} = 0.33', 20, {align: 'center'}),
  label(237, 1092, 'Compensation', 16.5, {align: 'center'}),
  label(483, 1135, 'GGA', 23, {align: 'right'}),
  // (f)
  label(573, 983, 'Moment (μ{s|B})', 20, {rot: R, align: 'center'}),
  label(825, 1196, 'x', 22, {align: 'center', italic: true}),
  label(843, 891, 'Cr: {i|S} = 1', 16.5), label(865, 1073, 'Co: {i|S} = 1/2', 16.5),
  label(758, 1055, '{i|x} = 0.33', 20, {align: 'center'}),
  label(762, 1077, 'Compensation', 16.5, {align: 'center'}),
  label(1014, 1133, 'LSDA', 23, {align: 'right'})
];

const chart = echarts.init(document.getElementById('chart'), null, {renderer: 'canvas'});
chart.setOption({
  animation: false,
  backgroundColor: '#fff',
  grid: GRIDS.map(g => ({left: g[0], top: g[1], width: g[2], height: g[3], show: false,
    containLabel: false, outerBoundsMode: 'none'})),
  xAxis: xAxis,
  yAxis: yAxis,
  legend: [
    legend(['GGA x=0', 'GGA x=0.5', 'GGA x=1'], 133, 60, true),
    legend(['LSDA x=0', 'LSDA x=0.5', 'LSDA x=1'], 657, 56, true),
    legend(['GGA Net', 'GGA Co', 'GGA Cr'], 123, 845, false),
    legend(['LSDA Net', 'LSDA Co', 'LSDA Cr'], 648, 845, false)
  ],
  graphic: {elements: texts},
  series: series
});
</script>
</body>
</html>
